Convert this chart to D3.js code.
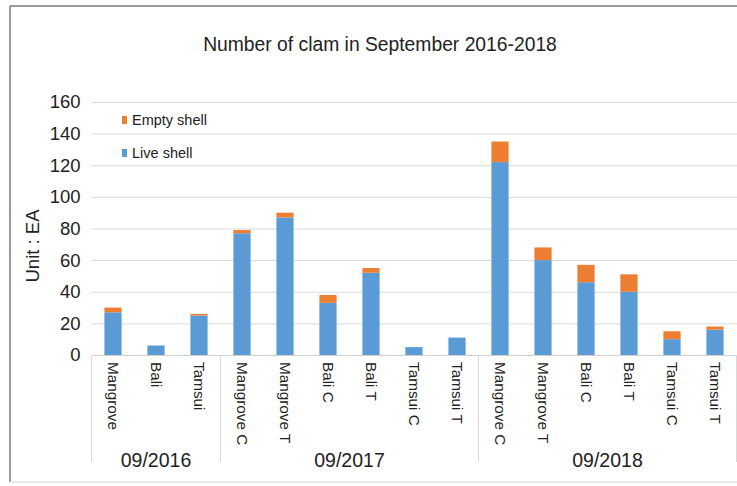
<!DOCTYPE html>
<html><head><meta charset="utf-8">
<script src="https://cdn.jsdelivr.net/npm/d3@7"></script>
<style>body{margin:0;background:#fff}svg{display:block;font-family:"Liberation Sans",Arial,sans-serif}</style>
</head><body><svg id="c" width="737" height="486"></svg>
<script>
const categories = ["Mangrove","Bali","Tamsui","Mangrove C","Mangrove T","Bali C","Bali T","Tamsui C","Tamsui T","Mangrove C","Mangrove T","Bali C","Bali T","Tamsui C","Tamsui T"];
const groups = ["09/2016","09/2016","09/2016","09/2017","09/2017","09/2017","09/2017","09/2017","09/2017","09/2018","09/2018","09/2018","09/2018","09/2018","09/2018"];
const liveShell = [27,6,25,77,87,33,52,5,11,122,60,46,40,10,16];
const emptyShell = [3,0,1,2,3,5,3,0,0,13,8,11,11,5,2];
const yTicks = [0,20,40,60,80,100,120,140,160];
const seriesNames = ["Live shell","Empty shell"];
const colors = {"Live shell":"#5b9bd5","Empty shell":"#ed7d31"};

const svg = d3.select("#c");
const idx = categories.map((_,i)=>i);
const x = d3.scaleBand().domain(idx).range([91.5,736.5]).paddingInner(0.6).paddingOuter(0.3);
const y = d3.scaleLinear().domain([0,160]).range([355,102]);

// frame
svg.append("line").attr("x1",10).attr("x2",737).attr("y1",6).attr("y2",6).attr("stroke","#9a9a9a").attr("stroke-width",2);
svg.append("line").attr("x1",10).attr("x2",10).attr("y1",6).attr("y2",482).attr("stroke","#9a9a9a").attr("stroke-width",2);
svg.append("line").attr("x1",10).attr("x2",737).attr("y1",482).attr("y2",482).attr("stroke","#e2e2e2").attr("stroke-width",1.5);

// title
svg.append("text").attr("x",380).attr("y",51).attr("text-anchor","middle").attr("font-size",19.3).attr("fill","#222").text("Number of clam in September 2016-2018");

// grid + y axis
const yAxis = d3.axisLeft(y).tickValues(yTicks).tickSize(-(737-91.5)).tickPadding(11);
const ga = svg.append("g").attr("transform","translate(91.5,0)").call(yAxis);
ga.select(".domain").remove();
ga.selectAll(".tick line").attr("stroke","#d9d9d9");
ga.selectAll(".tick text").attr("font-size",18.5).attr("fill","#222").attr("font-family","Liberation Sans, Arial, sans-serif");

svg.append("text").attr("transform","translate(39,246) rotate(-90)").attr("text-anchor","middle").attr("font-size",18.5).attr("fill","#222").text("Unit : EA");

// bars
const stackData = idx.map(i=>({i, "Live shell":liveShell[i], "Empty shell":emptyShell[i]}));
const stack = d3.stack().keys(seriesNames)(stackData);
svg.append("g").selectAll("g").data(stack).join("g").attr("fill",d=>colors[d.key])
  .selectAll("rect").data(d=>d).join("rect")
  .attr("x",d=>x(d.data.i)).attr("width",x.bandwidth())
  .attr("y",d=>y(d[1])).attr("height",d=>y(d[0])-y(d[1]));

// x axis line
svg.append("line").attr("x1",91.5).attr("x2",737).attr("y1",355.5).attr("y2",355.5).attr("stroke","#d0d0d0");

// category labels
svg.append("g").selectAll("text").data(idx).join("text")
  .attr("transform",i=>`translate(${x(i)+x.bandwidth()/2},362) rotate(90)`)
  .attr("dy","0.35em").attr("font-size",15.3).attr("fill","#222").text(i=>categories[i]);

// groups
const groupNames = Array.from(new Set(groups));
const step = x.step();
const bounds = groupNames.map(g=>{
  const ii = idx.filter(i=>groups[i]===g);
  return {g, x0: x(ii[0]) - x.paddingInner()*step/2 - (ii[0]===0 ? x.paddingOuter()*step - x.paddingInner()*step/2 : 0), x1: x(ii[ii.length-1]) + x.bandwidth() + x.paddingInner()*step/2};
});
const sepX = [bounds[0].x0].concat(bounds.map(b=>b.x1));
svg.append("g").selectAll("line").data(sepX).join("line")
  .attr("x1",d=>d).attr("x2",d=>d).attr("y1",355).attr("y2",462).attr("stroke","#d9d9d9");
svg.append("g").selectAll("text").data(bounds).join("text")
  .attr("x",b=>(b.x0+b.x1)/2).attr("y",467).attr("text-anchor","middle").attr("font-size",19.5).attr("fill","#222").text(b=>b.g);

// legend
const leg = svg.append("g");
[["Empty shell",120],["Live shell",153]].forEach(([k,ly])=>{
  leg.append("rect").attr("x",122).attr("y",ly-4).attr("width",5).attr("height",8).attr("fill",colors[k]);
  leg.append("text").attr("x",132).attr("y",ly).attr("dy","0.35em").attr("font-size",14.5).attr("fill","#222").text(k);
});
</script></body></html>
